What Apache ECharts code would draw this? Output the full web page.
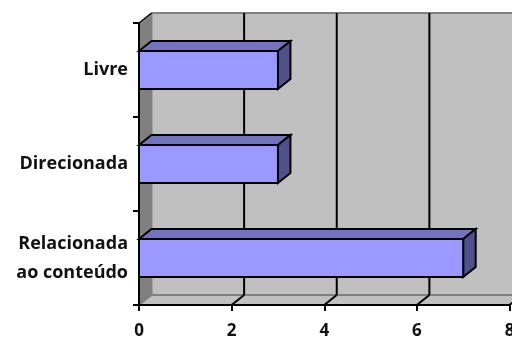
<!DOCTYPE html>
<html>
<head>
<meta charset="utf-8">
<style>html,body{margin:0;padding:0;background:#fff;overflow:hidden}#c{width:512px;height:338px}</style>
<script src="https://cdn.jsdelivr.net/npm/echarts@6/dist/echarts.min.js"></script>
</head>
<body>
<div id="c"></div>
<script>
// Horizontal bar chart with an extruded, box-style plot area
const categories = ['Relacionada\nao conteúdo', 'Direcionada', 'Livre'];
const values = [7, 3, 3];
const xTicks = [0, 2, 4, 6, 8];

const DEPTH_X = 12.5, DEPTH_Y = 10;   // extrusion offset of the box
const BAR_RATIO = 0.404;              // bar thickness relative to its band
const FONT = '"Open Sans", Lato, sans-serif';

function poly(points, fill, stroke, lineWidth) {
  return {
    type: 'polygon',
    shape: { points },
    style: { fill, stroke: stroke || 'none', lineWidth: lineWidth || 0, lineJoin: 'miter' }
  };
}
function line(x1, y1, x2, y2, stroke, lineWidth) {
  return {
    type: 'line',
    shape: { x1, y1, x2, y2 },
    style: { stroke, lineWidth }
  };
}

// Back wall, side wall, floor, gridlines and the slanted floor ticks
function renderBox(params, api) {
  const g = params.coordSys;
  const L = g.x, T = g.y, R = g.x + g.width, B = g.y + g.height;
  const children = [
    poly([[L + DEPTH_X, T - DEPTH_Y], [R + DEPTH_X, T - DEPTH_Y], [R + DEPTH_X, B - DEPTH_Y], [L + DEPTH_X, B - DEPTH_Y]], '#c0c0c0'),
    poly([[L, T], [L + DEPTH_X, T - DEPTH_Y], [L + DEPTH_X, B - DEPTH_Y], [L, B]], '#808080'),
    poly([[L, B], [L + DEPTH_X, B - DEPTH_Y], [R + DEPTH_X, B - DEPTH_Y], [R, B]], '#c0c0c0'),
    line(L + DEPTH_X, T - DEPTH_Y, R + DEPTH_X, T - DEPTH_Y, '#808080', 2),
    line(L + DEPTH_X, T - DEPTH_Y, L + DEPTH_X, B - DEPTH_Y, '#808080', 2),
    line(L + DEPTH_X, B - DEPTH_Y, R + DEPTH_X, B - DEPTH_Y, '#808080', 2),
    line(L, B, L + DEPTH_X, B - DEPTH_Y, '#808080', 2),
    line(L, T, L + DEPTH_X, T - DEPTH_Y, '#000', 1.5)
  ];
  xTicks.forEach(function (t) {
    if (t === 0) return;
    const x = api.coord([t, 0])[0];
    children.push(line(x + DEPTH_X, T - DEPTH_Y, x + DEPTH_X, B - DEPTH_Y, '#000', 2));
    children.push(line(x, B, x + DEPTH_X, B - DEPTH_Y, '#000', 2));
  });
  return { type: 'group', children };
}

// One extruded bar: front, top and end faces
function renderBar(params, api) {
  const end = api.coord([api.value(0), api.value(1)]);
  const start = api.coord([0, api.value(1)]);
  const h = api.size([0, 1])[1] * BAR_RATIO;
  const x0 = start[0], x1 = end[0], y0 = end[1] - h / 2, y1 = end[1] + h / 2;
  const edge = '#000';
  return {
    type: 'group',
    children: [
      poly([[x0, y0], [x0 + DEPTH_X, y0 - DEPTH_Y], [x1 + DEPTH_X, y0 - DEPTH_Y], [x1, y0]], '#7373bf', edge, 2),
      poly([[x1, y0], [x1 + DEPTH_X, y0 - DEPTH_Y], [x1 + DEPTH_X, y1 - DEPTH_Y], [x1, y1]], '#50508a', edge, 2),
      poly([[x0, y0], [x1, y0], [x1, y1], [x0, y1]], '#9999ff', edge, 2)
    ]
  };
}

const chart = echarts.init(document.getElementById('c'), null, { renderer: 'canvas' });
chart.setOption({
  animation: false,
  backgroundColor: '#fff',
  grid: { left: 139, top: 23, width: 370.5, height: 282, containLabel: false, outerBoundsMode: 'none' },
  xAxis: {
    type: 'value', min: 0, max: 8, interval: 2, z: 10,
    splitLine: { show: false },
    axisLine: { show: true, lineStyle: { color: '#000', width: 2 } },
    axisTick: { show: true, length: 6, lineStyle: { color: '#000', width: 2 } },
    axisLabel: {
      margin: 18, color: '#111', fontFamily: FONT, fontWeight: 'bold', fontSize: 17,
      showMinLabel: true, showMaxLabel: true, hideOverlap: false, alignMinLabel: 'center', alignMaxLabel: 'center'
    }
  },
  yAxis: {
    type: 'category', data: categories, z: 10,
    axisLine: { show: true, lineStyle: { color: '#000', width: 2 } },
    axisTick: { show: true, length: 6, alignWithLabel: false, lineStyle: { color: '#000', width: 2 } },
    axisLabel: {
      margin: 11, color: '#111', fontFamily: FONT, fontWeight: 'bold', fontSize: 18,
      lineHeight: 29, align: 'right', interval: 0, padding: [7, 0, 0, 0]
    }
  },
  series: [
    {
      type: 'custom', z: 1, silent: true, clip: false,
      renderItem: renderBox,
      data: [[0, 0]],
      encode: { x: 0, y: 1 }
    },
    {
      type: 'custom', z: 2, clip: false,
      renderItem: renderBar,
      data: values.map(function (v, i) { return [v, i]; }),
      encode: { x: 0, y: 1 }
    }
  ]
});
</script>
</body>
</html>
